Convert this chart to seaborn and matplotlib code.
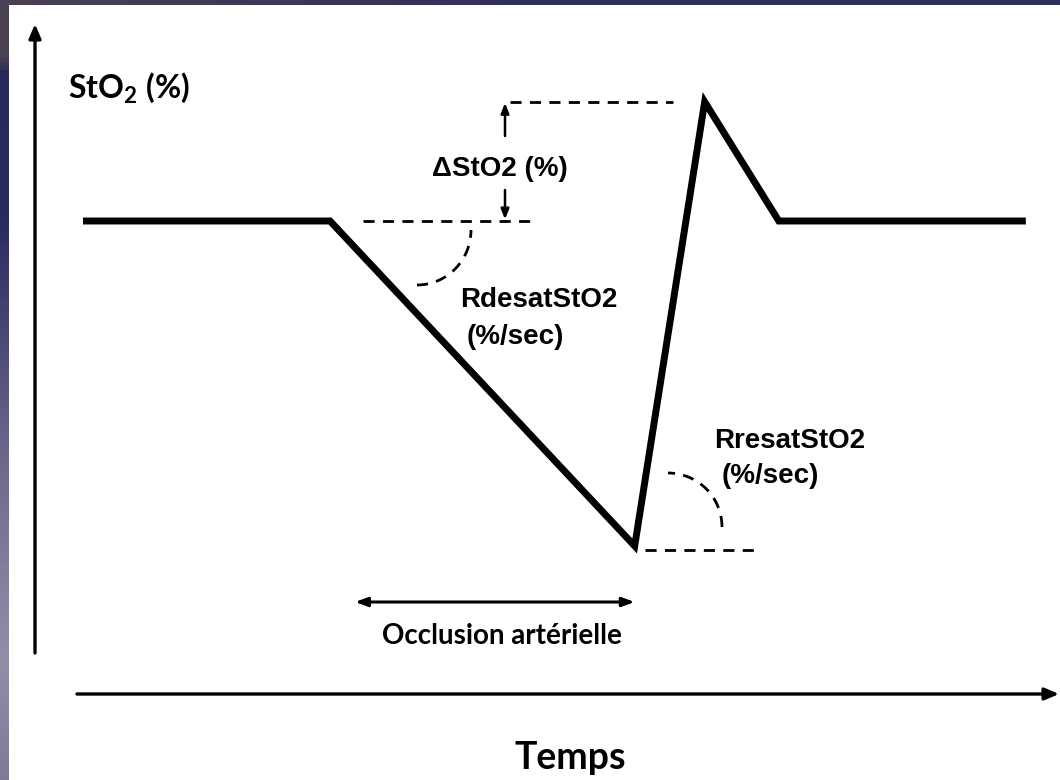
import numpy as np
import pandas as pd
import matplotlib
matplotlib.use("Agg")
import matplotlib.pyplot as plt
from matplotlib.patches import Arc, Rectangle
from matplotlib.colors import LinearSegmentedColormap
import seaborn as sns

# ---- data (schematic StO2 curve) ----
time = [0, 60, 134, 151, 169, 229]          # time, arbitrary units (s)
sto2 = [70, 70, 40, 81, 70, 70]             # StO2 (%)
occlusion_start = 66
occlusion_end = 134

label_y = "StO$_\\mathbf{2}$ (%)"
label_x = "Temps"
label_delta = "ΔStO2 (%)"
label_desat = ["RdesatStO2", "(%/sec)"]
label_resat = ["RresatStO2", "(%/sec)"]
label_occl = "Occlusion artérielle"

sns.set_theme(style="white")
plt.rcParams["font.family"] = ["Liberation Sans", "DejaVu Sans"]
plt.rcParams["text.color"] = "black"
plt.rcParams["mathtext.fontset"] = "custom"
plt.rcParams["mathtext.rm"] = "Lato"
plt.rcParams["mathtext.bf"] = "Lato:bold"

W, H = 1060, 780
fig = plt.figure(figsize=(W / 100, H / 100), dpi=100)
fig.patch.set_facecolor("#2c2d5c")

# white slide area (behind everything)
fig.patches.append(Rectangle((9 / W, 0), 1 - 9 / W, 1 - 5 / H,
                             transform=fig.transFigure, facecolor="white",
                             edgecolor="none", zorder=-5))

# left strip gradient
bg = fig.add_axes([0, 0, 9 / W, 1])
cmap = LinearSegmentedColormap.from_list(
    "strip",
    [(0.0, "#4a4152"), (0.07, "#4a4152"), (0.09, "#28295b"), (0.28, "#2a2b5e"),
     (0.6, "#6e6b8e"), (0.85, "#938ea8"), (1.0, "#7e7a98")])
bg.imshow(np.linspace(0, 1, 200).reshape(-1, 1), aspect="auto", cmap=cmap,
          extent=[0, 1, 1, 0])
bg.axis("off")
# top strip
top = fig.add_axes([9 / W, 1 - 5 / H, 1 - 9 / W, 5 / H])
cmap2 = LinearSegmentedColormap.from_list("top", ["#4a4152", "#302f5a", "#2e2f5c"])
top.imshow(np.linspace(0, 1, 200).reshape(1, -1), aspect="auto", cmap=cmap2)
top.axis("off")

ax = fig.add_axes([0, 0, 1, 1])
ax.patch.set_alpha(0)
XL = (-20.16, 237.3)
YL = (18.4, 90.4)
ax.set_xlim(*XL)
ax.set_ylim(*YL)
ax.axis("off")


def P(px, py):
    """pixel position -> data position (for annotation layout)"""
    return (XL[0] + px / W * (XL[1] - XL[0]), YL[1] - py / H * (YL[1] - YL[0]))


df = pd.DataFrame({"time": time, "sto2": sto2})
sns.lineplot(data=df, x="time", y="sto2", ax=ax, color="black", linewidth=5.0,
             estimator=None, sort=False, legend=False)
ax.lines[-1].set_solid_joinstyle("miter")
ax.lines[-1].set_solid_capstyle("butt")

base, low, peak = sto2[0], min(sto2), max(sto2)

dash = dict(color="black", linewidth=2.0, linestyle=(0, (4, 3)))
# dashed reference lines
ax.hlines(peak, P(510, 0)[0], P(673, 0)[0], **dash)
ax.hlines(base, P(363, 0)[0], P(530, 0)[0], **dash)
ax.hlines(P(0, 550)[1], P(645, 0)[0], P(758, 0)[0], **dash)

# dashed angle arcs
sx = (XL[1] - XL[0]) / W
sy = (YL[1] - YL[0]) / H
c1 = P(417, 230)
ax.add_patch(Arc(c1, 2 * 54 * sx, 2 * 55 * sy, theta1=-90, theta2=0, **dash))
c2 = P(668, 527)
ax.add_patch(Arc(c2, 2 * 54 * sx, 2 * 54 * sy, theta1=0, theta2=90, **dash))

# delta arrows
xa = P(505, 0)[0]
ax.annotate("", xy=(xa, peak - 0.1), xytext=(xa, P(0, 136)[1]),
            arrowprops=dict(arrowstyle="-|>,head_length=0.5,head_width=0.2",
                            color="black", lw=1.8, shrinkA=0, shrinkB=0))
ax.annotate("", xy=(xa, base + 0.15), xytext=(xa, P(0, 190)[1]),
            arrowprops=dict(arrowstyle="-|>,head_length=0.5,head_width=0.2",
                            color="black", lw=1.8, shrinkA=0, shrinkB=0))

# axis arrows
ax.annotate("", xy=P(35, 24), xytext=P(35, 653),
            arrowprops=dict(arrowstyle="-|>,head_length=0.7,head_width=0.3",
                            color="black", lw=2.4, shrinkA=0, shrinkB=0))
ax.annotate("", xy=P(1059, 694), xytext=P(77, 694),
            arrowprops=dict(arrowstyle="-|>,head_length=0.7,head_width=0.3",
                            color="black", lw=2.4, shrinkA=0, shrinkB=0))

# occlusion double arrow
yo = P(0, 602)[1]
ax.annotate("", xy=(occlusion_end, yo), xytext=(P(355, 0)[0], yo),
            arrowprops=dict(arrowstyle="<|-|>,head_length=0.6,head_width=0.22",
                            color="black", lw=2.2, shrinkA=0, shrinkB=0))

# texts
ax.text(*P(68, 88), label_y, fontsize=23, fontweight="bold", family="Lato",
        ha="left", va="center")
ax.text(*P(570, 758), label_x, fontsize=27, fontweight="bold", family="Lato",
        ha="center", va="center")
ax.text(*P(502, 636), label_occl, fontsize=20, fontweight="bold", family="Lato",
        ha="center", va="center")
lab = dict(fontsize=20, fontweight="bold", va="center")
ax.text(*P(500, 169), label_delta, ha="center", **lab)
ax.text(*P(460, 300), label_desat[0], ha="left", **lab)
ax.text(*P(467, 337), label_desat[1], ha="left", **lab)
ax.text(*P(714, 441), label_resat[0], ha="left", **lab)
ax.text(*P(722, 476), label_resat[1], ha="left", **lab)

fig.savefig("out.png", dpi=100, facecolor=fig.get_facecolor())
